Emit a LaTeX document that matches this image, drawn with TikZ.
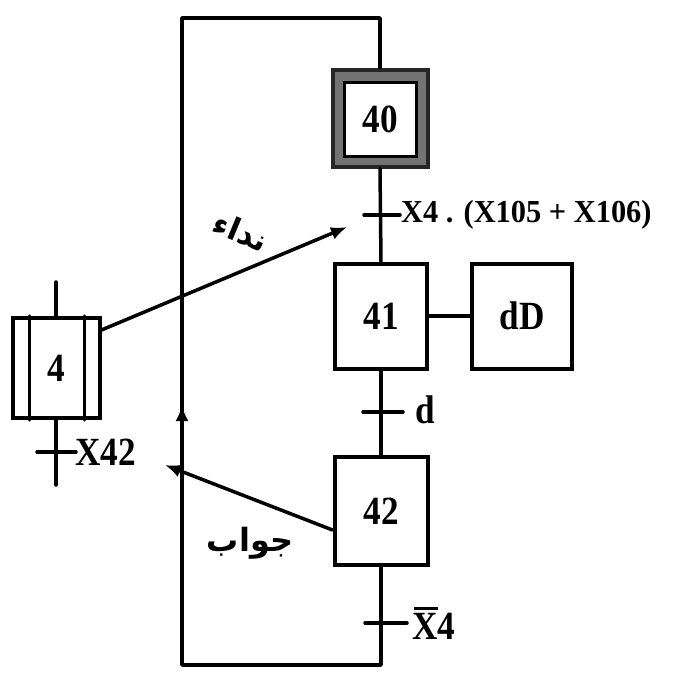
\documentclass[tikz,border=0pt]{standalone}
\usepackage{fontspec}
\setmainfont{Liberation Serif}
\newfontfamily\arabicfont[Script=Arabic]{DejaVu Sans}
\TeXXeTstate=1
\usetikzlibrary{arrows.meta}
\newcommand\nar[1]{\scalebox{0.88}[1]{#1}}
\begin{document}
\begin{tikzpicture}[x=1pt,y=-1pt,
  ln/.style={line width=3.5pt, line cap=round, line join=round},
  stepbox/.style={draw, line width=4pt, fill=white, inner sep=0pt,
    font=\bfseries\fontsize{40}{40}\selectfont},
  lbl/.style={inner sep=1pt, font=\bfseries\fontsize{40}{40}\selectfont},
  arr/.style={ln, -{Latex[length=16pt,width=13pt]}}
]
\useasboundingbox (0,0) rectangle (681,678);

% steps
\node[stepbox, draw=black!85, fill=black!55, minimum width=95pt, minimum height=97pt] (s40) at (380,118) {};
\node[stepbox, line width=3pt, minimum width=72pt, minimum height=74pt] (s40i) at (380,119) {\nar{40}};
\node[stepbox, minimum width=92pt, minimum height=105pt] (s41) at (381,316) {\nar{41}};
\node[stepbox, minimum width=100pt, minimum height=105pt] (sdD) at (522,316) {\nar{dD}};
\node[stepbox, minimum width=93pt, minimum height=108pt] (s42) at (381,511) {\nar{42}};
\node[stepbox, minimum width=87pt, minimum height=100pt] (s4) at (56,368) {\nar{4}};
\draw[ln] ([xshift=19pt]s4.north west) -- ([xshift=19pt]s4.south west);
\draw[ln] ([xshift=-17pt]s4.north east) -- ([xshift=-17pt]s4.south east);

% coordinates
\coordinate (t1) at (381,215);
\coordinate (t2) at (381,412);
\coordinate (t3) at (381,623);
\coordinate (bot) at (381,665);
\coordinate (lft) at (182,18);
\coordinate (up4) at (56,282);
\coordinate (dn4) at (56,485);
\coordinate (t4) at (56,452);
\coordinate (a1e) at (347,227);
\coordinate (a2e) at (165,465);

% main chain
\draw[ln] (s40.south) -- (s41.north);
\draw[ln] (s41.south) -- (s42.north);
\draw[ln] (s41.east) -- (sdD.west);
\draw[ln] (s42.south) -- (bot) -| (lft) -| (s40.north);
\draw[arr] (182,440) -- (182,405);

% transitions
\draw[ln] ([xshift=-17pt]t1) -- ([xshift=19pt]t1);
\node[anchor=west, inner sep=1pt, font=\bfseries\fontsize{32}{32}\selectfont] (l1) at ([xshift=19pt]t1) {\scalebox{0.95}[1]{X4 . (X105 + X106)}};
\draw[ln] ([xshift=-18pt]t2) -- ([xshift=22pt]t2);
\node[lbl, anchor=west] (l2) at ([xshift=33pt,yshift=2pt]t2) {\nar{d}};
\draw[ln] ([xshift=-16pt]t3) -- ([xshift=26pt]t3);
\node[lbl, anchor=west] (l3) at ([xshift=30pt,yshift=-3pt]t3) {\nar{X4}};
\draw[line width=3pt] ([xshift=3pt,yshift=3pt]l3.north west) -- ++(24,0);

% macro step 4
\draw[ln] (up4) -- (s4.north);
\draw[ln] (s4.south) -- (dn4);
\draw[ln] ([xshift=-19pt]t4) -- ([xshift=20pt]t4);
\node[lbl, anchor=west] (l4) at ([xshift=18pt]t4) {\nar{X42}};

% arrows
\draw[arr] ([yshift=38pt]s4.east) -- (a1e);
\node[rotate=-22.6, inner sep=0pt, font=\arabicfont\bfseries\fontsize{31}{31}\selectfont] (n1) at (241,232) {\beginR نداء\endR};
\draw[arr] ([yshift=-19pt]s42.west) -- (a2e);
\node[inner sep=0pt, font=\arabicfont\bfseries\fontsize{32}{32}\selectfont] (n2) at (250,543) {\beginR جواب\endR};
\end{tikzpicture}
\end{document}
